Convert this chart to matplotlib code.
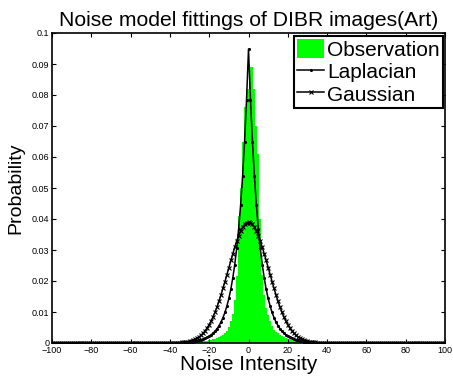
import matplotlib
matplotlib.use("Agg")
import matplotlib.pyplot as plt
import numpy as np

plt.rcParams['font.family'] = ['Liberation Sans', 'DejaVu Sans']

# ---- data ----
x_hist = list(range(-30, 31))
obs = [0.0002, 0.0002, 0.0003, 0.0003, 0.0004, 0.0004, 0.0005, 0.0006, 0.0007, 0.0008,
       0.0009, 0.0010, 0.0012, 0.0014, 0.0016, 0.0019, 0.0023, 0.0027, 0.0032, 0.0039,
       0.0052, 0.0070, 0.0093, 0.0140, 0.0215, 0.0410, 0.0500, 0.0650, 0.0760, 0.0820,
       0.0820,
       0.0890, 0.0890, 0.0820, 0.0700, 0.0610, 0.0400, 0.0220, 0.0155, 0.0113, 0.0090,
       0.0070, 0.0054, 0.0043, 0.0036, 0.0031, 0.0027, 0.0023, 0.0019, 0.0016, 0.0014,
       0.0012, 0.0010, 0.0009, 0.0008, 0.0007, 0.0006, 0.0005, 0.0004, 0.0003, 0.0003]

x_curve = list(range(-100, 101))
laplace_core = [  # x = -40 .. 40
    0.0001, 0.0001, 0.0001, 0.0001, 0.0001, 0.00013, 0.00015, 0.00019, 0.00023,
    0.00027, 0.00033, 0.00040, 0.00048, 0.00058, 0.00070, 0.00085, 0.00102, 0.00124, 0.00149,
    0.00180, 0.00218, 0.00263, 0.00318, 0.00384, 0.00463, 0.00559, 0.00676, 0.00816, 0.00985,
    0.01190, 0.01437, 0.01735, 0.02096, 0.02531, 0.03056, 0.03691, 0.04457, 0.05383, 0.06500,
    0.07850,
    0.0948,
    0.07850, 0.06500, 0.05383, 0.04457, 0.03691, 0.03056, 0.02531, 0.02096, 0.01735, 0.01437,
    0.01190, 0.00985, 0.00816, 0.00676, 0.00559, 0.00463, 0.00384, 0.00318, 0.00263, 0.00218,
    0.00180, 0.00149, 0.00124, 0.00102, 0.00085, 0.00070, 0.00058, 0.00048, 0.00040, 0.00033,
    0.00027, 0.00023, 0.00019, 0.00015, 0.00013, 0.0001, 0.0001, 0.0001, 0.0001, 0.0001]
gauss_core = [  # x = -40 .. 40
    0.0000, 0.0000, 0.0000, 0.0001, 0.0001, 0.00012, 0.00017, 0.00023, 0.00031, 0.00042,
    0.00056, 0.00074, 0.00097, 0.00126, 0.00161, 0.00205, 0.00258, 0.00322, 0.00399, 0.00488,
    0.00592, 0.00712, 0.00847, 0.00999, 0.01167, 0.01351, 0.01549, 0.01759, 0.01979, 0.02205,
    0.02434, 0.02662, 0.02885, 0.03096, 0.03291, 0.03467, 0.03617, 0.03738, 0.03827, 0.03882,
    0.0390,
    0.03882, 0.03827, 0.03738, 0.03617, 0.03467, 0.03291, 0.03096, 0.02885, 0.02662, 0.02434,
    0.02205, 0.01979, 0.01759, 0.01549, 0.01351, 0.01167, 0.00999, 0.00847, 0.00712, 0.00592,
    0.00488, 0.00399, 0.00322, 0.00258, 0.00205, 0.00161, 0.00126, 0.00097, 0.00074, 0.00056,
    0.00042, 0.00031, 0.00023, 0.00017, 0.00012, 0.0001, 0.0001, 0.0000, 0.0000, 0.0000]
laplace = [0.0] * 60 + laplace_core + [0.0] * 60
gauss = [0.0] * 60 + gauss_core + [0.0] * 60

xticks = list(range(-100, 101, 20))
yticks = [0, 0.01, 0.02, 0.03, 0.04, 0.05, 0.06, 0.07, 0.08, 0.09, 0.1]
ytick_labels = ['0', '0.01', '0.02', '0.03', '0.04', '0.05', '0.06', '0.07', '0.08', '0.09', '0.1']

fig = plt.figure(figsize=(4.53, 3.78), dpi=100)
ax = fig.add_axes([52 / 453, 35 / 378, 393 / 453, 310 / 378])

h_obs = ax.bar(x_hist, obs, width=1.0, color='#00ff00', edgecolor='none', label='Observation')
h_lap, = ax.plot(x_curve, laplace, color='black', lw=1.1, marker='.', ms=2.5, label='Laplacian')
h_gau, = ax.plot(x_curve, gauss, color='black', lw=1.1, marker='x', ms=3.5, mew=0.8, label='Gaussian')

ax.set_xlim(-100, 100)
ax.set_ylim(0, 0.1)
ax.set_xticks(xticks)
ax.set_xticklabels([str(t).replace('-', '\u2212') for t in xticks])
ax.set_yticks(yticks)
ax.set_yticklabels(ytick_labels)
ax.tick_params(direction='in', top=True, right=True, length=3, width=0.8,
               labelsize=6.5, pad=2, colors='black')
for s in ax.spines.values():
    s.set_linewidth(1.2)

ax.set_title('Noise model fittings of DIBR images(Art)', fontsize=15.2, pad=5)
ax.set_xlabel('Noise Intensity', fontsize=15, labelpad=0)
ax.set_ylabel('Probability', fontsize=14, labelpad=5)

leg = ax.legend([h_obs, h_lap, h_gau], ['Observation', 'Laplacian', 'Gaussian'],
                loc='upper right', bbox_to_anchor=(443 / 453, 1 - 36 / 378),
                bbox_transform=fig.transFigure, borderaxespad=0,
                fontsize=15, frameon=True, fancybox=False, framealpha=1,
                handlelength=1.3, handleheight=1.0, handletextpad=0.15,
                borderpad=0.15, labelspacing=0.1)
leg.get_frame().set_edgecolor('black')
leg.get_frame().set_linewidth(1.5)

fig.savefig('out.png', dpi=100)
